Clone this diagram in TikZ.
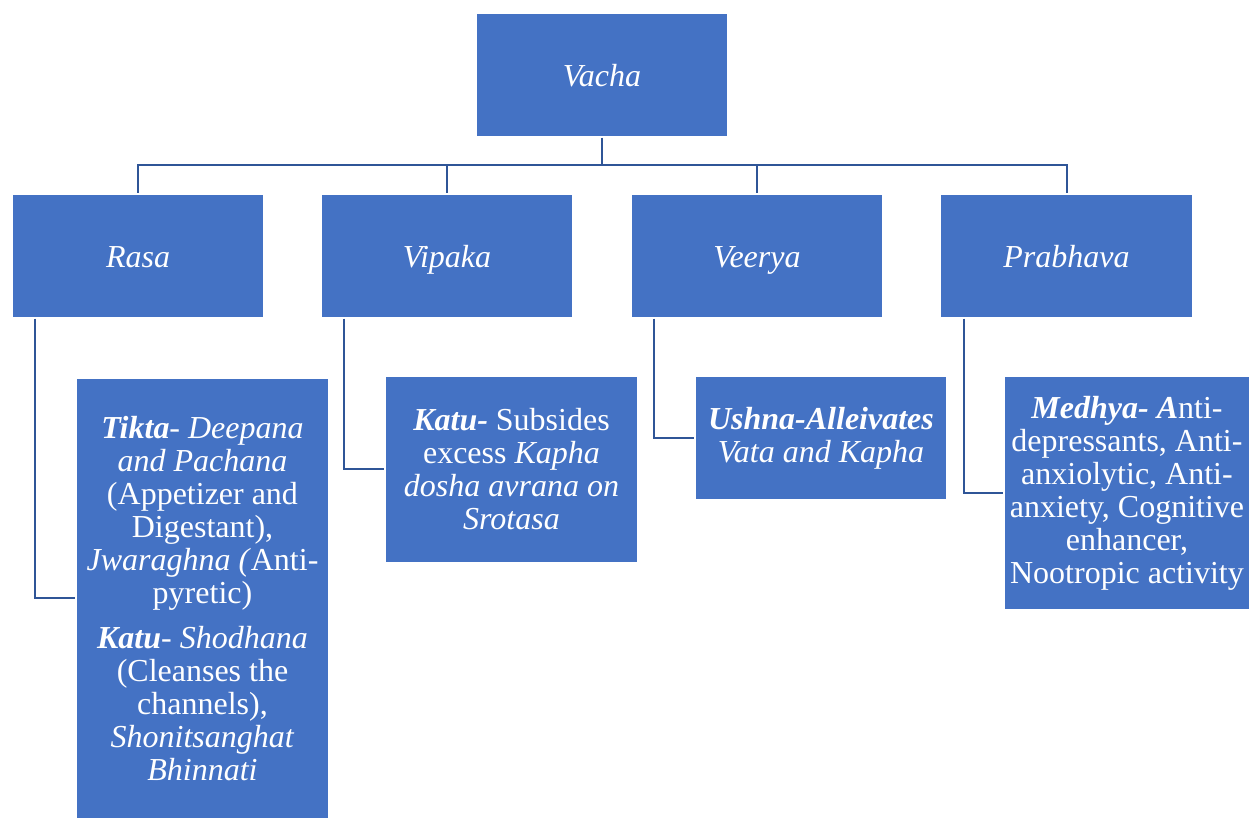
\documentclass[tikz,border=0pt]{standalone}
\usepackage{fontspec}
\setmainfont{Liberation Serif}
\definecolor{boxblue}{HTML}{4472C4}
\definecolor{linkblue}{HTML}{2F5597}
\begin{document}
\begin{tikzpicture}[x=0.5pt,y=-0.5pt,
  box/.style={rectangle,fill=boxblue,draw=white,line width=0.6pt,text=white,
    align=center,inner sep=1pt,font=\fontsize{16}{16.5}\selectfont},
  topbox/.style={box,minimum width=126pt,minimum height=62pt,
    text height=13pt,text depth=1.5pt},
  link/.style={draw=linkblue,line width=1pt}]
\useasboundingbox (0,0) rectangle (1250,818);

% root and first level
\node[topbox] (vacha) at (602,75) {\itshape Vacha};
\node[topbox] (rasa) at (138,256) {\itshape Rasa};
\node[topbox] (vipaka) at (447,256) {\itshape Vipaka};
\node[topbox] (veerya) at (757,256) {\itshape Veerya};
\node[topbox] (prabhava) at (1066.5,256) {\itshape Prabhava};

% detail boxes
\node[box,minimum width=126.5pt,minimum height=220.5pt] (rasaD) at (202.5,598.5)
  {\textbf{\textit{Tikta}}\textit{- Deepana}\\
   \textit{and Pachana}\\
   (Appetizer and\\
   Digestant),\\
   \textit{Jwaraghna (}Anti-\\
   pyretic)\\[6pt]
   \textbf{\textit{Katu}}\textit{- Shodhana}\\
   (Cleanses the\\
   channels),\\
   \textit{Shonitsanghat}\\
   \textit{Bhinnati}};
\node[box,minimum width=126.5pt,minimum height=93.5pt] (vipakaD) at (511.5,469.5)
  {\textbf{\textit{Katu-}} Subsides\\
   excess \textit{Kapha}\\
   \textit{dosha avrana on}\\
   \textit{Srotasa}};
\node[box,minimum width=126pt,minimum height=62pt] (veeryaD) at (821,438)
  {\textbf{\textit{Ushna-Alleivates}}\\
   \textit{Vata and Kapha}};
\node[box,minimum width=123pt,minimum height=117pt] (prabhavaD) at (1127,493)
  {\textbf{\textit{Medhya- A}}nti-\\
   depressants, Anti-\\
   anxiolytic, Anti-\\
   anxiety, Cognitive\\
   enhancer,\\
   Nootropic activity};

% tree connectors
\coordinate (bus) at (602,165);
\draw[link] (vacha.south) -- (bus);
\draw[link] (bus) -| (rasa.north);
\draw[link] (bus) -| (vipaka.north);
\draw[link] (bus) -| (veerya.north);
\draw[link] (bus) -| (prabhava.north);

% elbow connectors to detail boxes
\draw[link] ([xshift=12pt]rasa.south west) |- (rasaD.west);
\draw[link] ([xshift=12pt]vipaka.south west) |- (vipakaD.west);
\draw[link] ([xshift=12pt]veerya.south west) |- (veeryaD.west);
\draw[link] ([xshift=12pt]prabhava.south west) |- (prabhavaD.west);
\end{tikzpicture}
\end{document}
